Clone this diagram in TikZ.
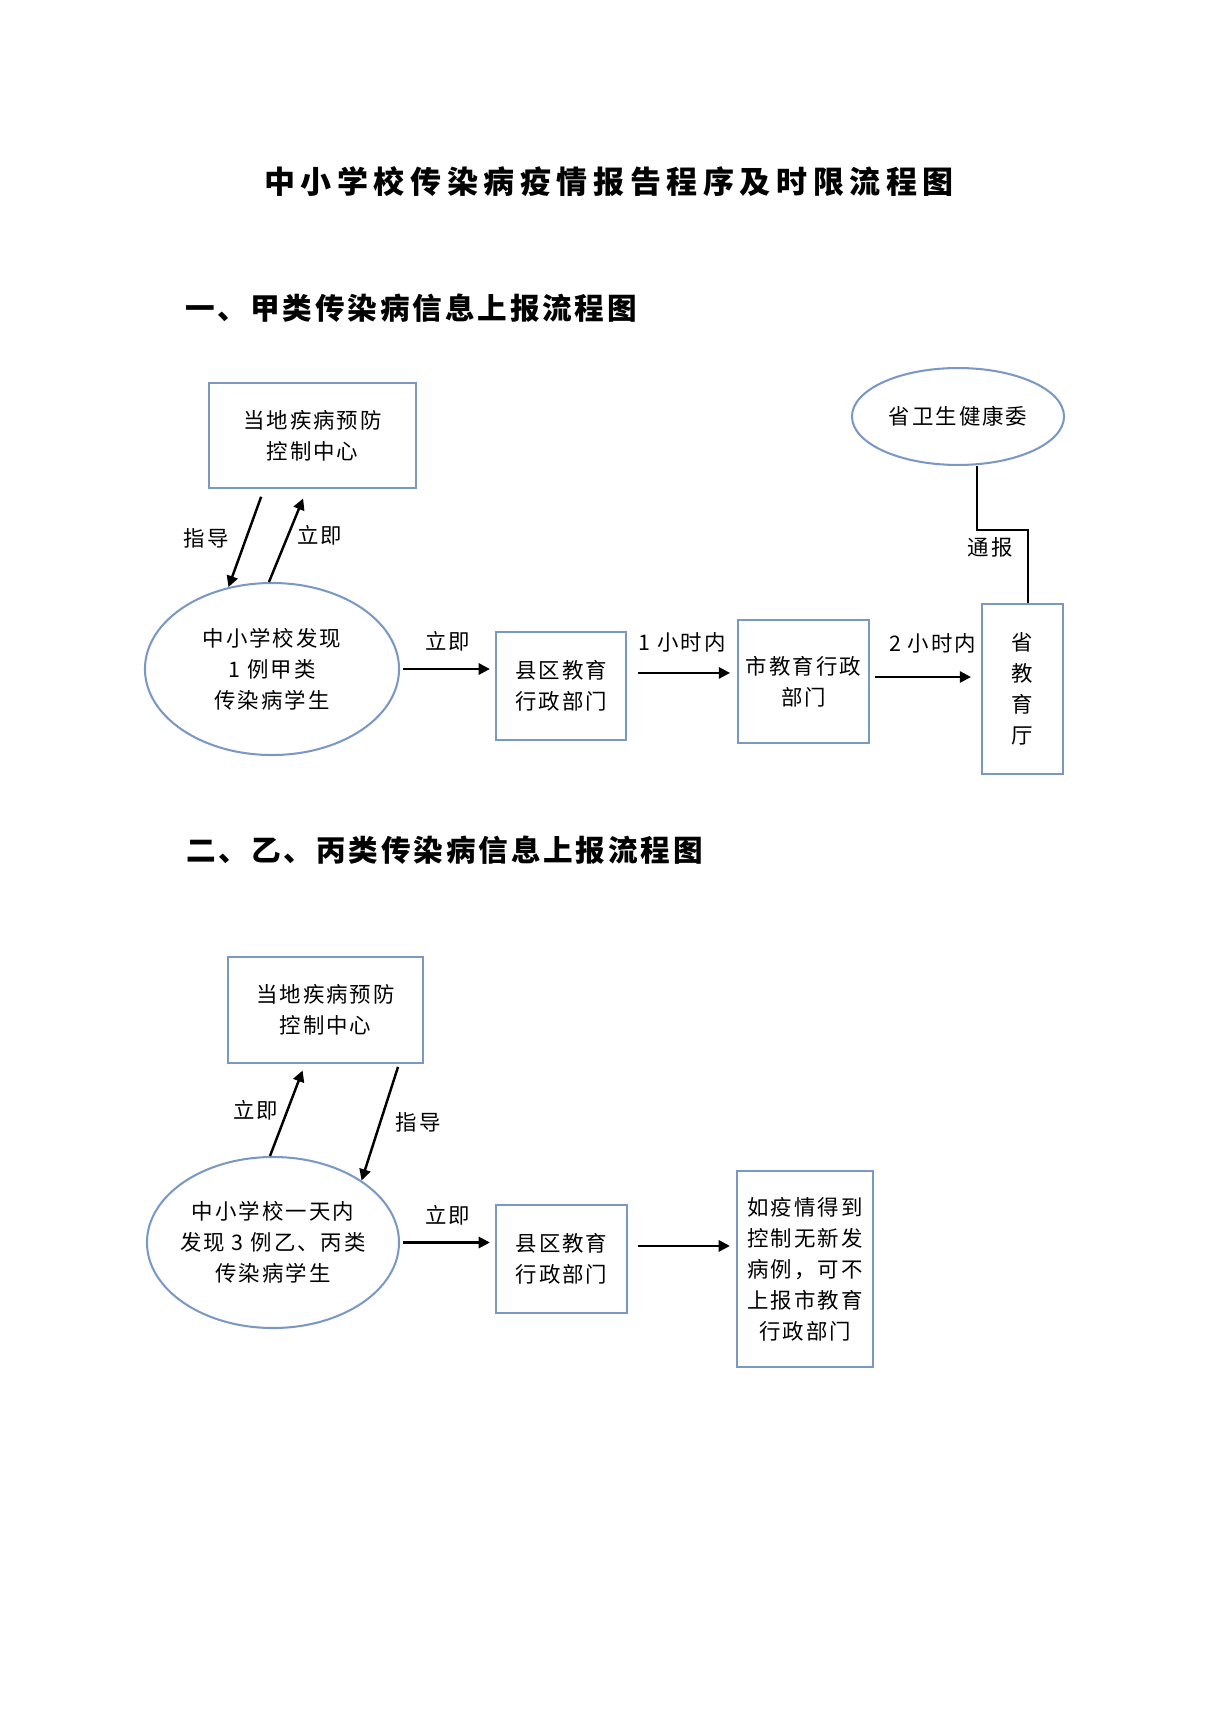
\documentclass[tikz,border=0pt]{standalone}
\usepackage{fontspec}
\usepackage{tikz}
\usetikzlibrary{positioning, shapes.geometric, arrows.meta}
\newfontfamily\cjk{Noto Sans CJK SC}[LetterSpace=9.5]
\newfontfamily\cjktitle{Noto Sans CJK SC}[LetterSpace=18]
\newfontfamily\cjkhead{Noto Sans CJK SC}[LetterSpace=9.7]
\definecolor{boxblue}{RGB}{122,152,196}

\tikzset{
  box/.style={rectangle, draw=boxblue, line width=1pt, inner sep=2pt, align=center,
    font=\cjk\fontsize{10.5}{15.2}\selectfont},
  oval/.style={ellipse, draw=boxblue, line width=1pt, inner sep=-6pt, align=center,
    font=\cjk\fontsize{10.5}{15.2}\selectfont},
  arrow/.style={-{Triangle[length=5.5pt,width=5.5pt]}, line width=1.2pt},
  lbl/.style={font=\cjk\fontsize{10.5}{15.2}\selectfont, inner sep=1pt}
}

\begin{document}
\begin{tikzpicture}[x=0.49pt, y=-0.49pt]
  \fill[white] (0,0) rectangle (1214,1719);

  % Titel und Ueberschriften
  \node[font=\cjktitle\bfseries\fontsize{15.2}{18}\selectfont] (title) at (609,182) {中小学校传染病疫情报告程序及时限流程图};
  \node[anchor=west, inner sep=0, font=\cjkhead\bfseries\fontsize{14.5}{17}\selectfont] (headA) at (185,308) {一、甲类传染病信息上报流程图};
  \node[anchor=west, inner sep=0, font=\cjkhead\bfseries\fontsize{14.5}{17}\selectfont] (headB) at (186,850) {二、乙、丙类传染病信息上报流程图};

  % Teil 1: Knoten
  \node[box, minimum width=101.4pt, minimum height=51.5pt] (cdcA) at (312.5,435.5) {当地疾病预防\\控制中心};
  \node[oval, minimum width=124.5pt, minimum height=84.3pt] (schoolA) at (272,669) {中小学校发现\\1 例甲类\\传染病学生};
  \node[box, minimum width=63.7pt, minimum height=52.9pt] (countyA) at (561,686) {县区教育\\行政部门};
  \node[box, minimum width=64.2pt, minimum height=60.3pt] (cityA) at (803.5,681.5) {市教育行政\\部门};
  \node[box, minimum width=39.7pt, minimum height=83.3pt] (provA) at (1022.5,689) {省\\教\\育\\厅};
  \node[oval, minimum width=103.9pt, minimum height=47.5pt] (healthA) at (958,416.5) {省卫生健康委};

  % Teil 1: Pfeile
  \draw[arrow, shorten <=4pt] ([xshift=-23.8pt]cdcA.south) -- (schoolA.118) node[midway, left=7pt, lbl] {指导};
  \draw[arrow, shorten >=5pt] (schoolA.92) -- ([xshift=-2.7pt]cdcA.south) node[midway, right=3pt, lbl] {立即};
  \draw[arrow, shorten <=1.5pt, shorten >=2.5pt] (schoolA.east) -- (schoolA.east -| countyA.west) node[midway, above=7pt, lbl] {立即};
  \draw[arrow, shorten <=5.4pt, shorten >=3.4pt] ([yshift=6.4pt]countyA.east) -- ([yshift=6.4pt]countyA.east -| cityA.west) node[midway, above=8.5pt, lbl] {1 小时内};
  \draw[arrow, shorten <=2.5pt, shorten >=4.9pt] ([yshift=2.2pt]cityA.east) -- ([yshift=2.2pt]cityA.east -| provA.west) node[midway, above=10pt, xshift=3.5pt, lbl] {2 小时内};
  \draw[line width=1.2pt] ([xshift=9.3pt]healthA.south) -- ++(0,64) -| ([xshift=2.7pt]provA.north) node[pos=0.62, left=6pt, lbl] {通报};

  % Teil 2: Knoten
  \node[box, minimum width=95.6pt, minimum height=51.9pt] (cdcB) at (325.5,1010) {当地疾病预防\\控制中心};
  \node[oval, minimum width=123.5pt, minimum height=83.8pt] (schoolB) at (273,1242.5) {中小学校一天内\\发现 3 例乙、丙类\\传染病学生};
  \node[box, minimum width=64.2pt, minimum height=52.9pt] (countyB) at (561.5,1259) {县区教育\\行政部门};
  \node[box, minimum width=66.6pt, minimum height=96pt] (noteB) at (805,1269) {如疫情得到\\控制无新发\\病例，可不\\上报市教育\\行政部门};

  % Teil 2: Pfeile
  \draw[arrow, shorten >=3.4pt] (schoolB.92) -- ([xshift=-10pt]cdcB.south) node[midway, left=3pt, lbl] {立即};
  \draw[arrow, shorten <=1.5pt] ([xshift=36pt]cdcB.south) -- (schoolB.35) node[midway, right=6pt, lbl] {指导};
  \draw[arrow, shorten <=1.5pt, shorten >=2.5pt] (schoolB.east) -- (schoolB.east -| countyB.west) node[midway, above=7pt, lbl] {立即};
  \draw[arrow, shorten <=5pt, shorten >=3pt] ([yshift=6.4pt]countyB.east) -- ([yshift=6.4pt]countyB.east -| noteB.west);
\end{tikzpicture}
\end{document}
